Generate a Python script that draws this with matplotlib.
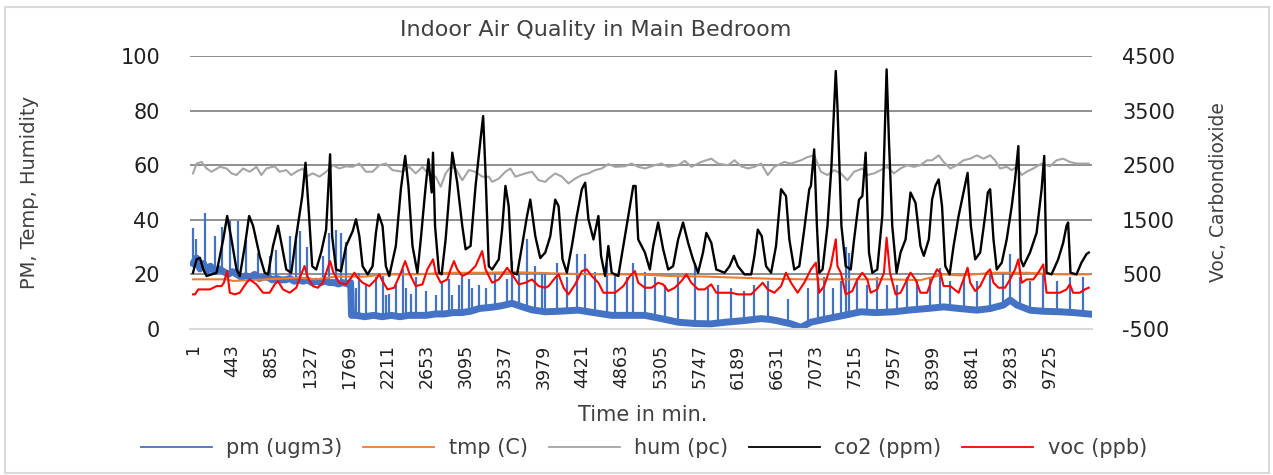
import matplotlib
matplotlib.use("Agg")
import matplotlib.pyplot as plt
from matplotlib.patches import Rectangle

# ---- data (t = minute index) ----
xtick_vals = [1, 443, 885, 1327, 1769, 2211, 2653, 3095, 3537, 3979, 4421, 4863,
              5305, 5747, 6189, 6631, 7073, 7515, 7957, 8399, 8841, 9283, 9725]
n_points = 10167

# co2 (ppm), right axis
co2_t = [1, 42, 80, 118, 155, 268, 344, 389, 438, 495, 532, 589, 638, 683, 758, 815, 853,
         909, 966, 1003, 1060, 1116, 1173, 1241, 1278, 1316, 1354, 1399, 1455, 1512, 1557,
         1580, 1625, 1681, 1738, 1813, 1851, 1889, 1926, 1983, 2039, 2077, 2107, 2152, 2190,
         2228, 2303, 2360, 2409, 2446, 2492, 2548, 2586, 2635, 2673, 2710, 2725, 2748, 2793,
         2823, 2868, 2914, 2944, 3000, 3057, 3095, 3151, 3208, 3264, 3294, 3321, 3358, 3396,
         3471, 3509, 3547, 3584, 3622, 3679, 3735, 3792, 3829, 3886, 3942, 3999,
         4056, 4112, 4150, 4195, 4244, 4301, 4357, 4414, 4452, 4489, 4546, 4602, 4632, 4678,
         4715, 4753, 4828, 4885, 4941, 4998, 5024, 5054, 5130, 5186, 5224, 5280, 5337, 5394,
         5450, 5507, 5563, 5620, 5676, 5733, 5789, 5827, 5883, 5940, 6034, 6091, 6140, 6185,
         6260, 6336, 6373, 6411, 6456, 6505, 6562, 6618, 6675, 6731, 6769, 6825, 6882, 6938,
         6995, 7014, 7051, 7082, 7108, 7146, 7202, 7247, 7296, 7315, 7334, 7360, 7409, 7466,
         7504, 7560, 7598, 7635, 7673, 7711, 7767, 7824, 7873, 7899, 7937, 7986, 8031, 8088,
         8144, 8201, 8257, 8295, 8352, 8389, 8426, 8464, 8502, 8539, 8588, 8633, 8690, 8746,
         8792, 8829, 8878, 8935, 8991, 9022, 9048, 9086, 9123, 9180, 9236, 9293, 9331, 9368,
         9395, 9425, 9500, 9575, 9632, 9662, 9688, 9745, 9820, 9877, 9915, 9933, 9960, 10028,
         10084, 10141, 10167]
co2_v = [530, 775, 805, 590, 470, 530, 1140, 1570, 1140, 590, 470, 1020, 1570, 1390, 840, 530, 500,
         1020, 1390, 1080, 590, 530, 1200, 1935, 2545, 1630, 650, 590, 900, 1320, 2700,
         1200, 590, 560, 1020, 1290, 1510, 1200, 650, 500, 650, 1260, 1600, 1390, 650,
         470, 1020, 2060, 2670, 2120, 1020, 530, 1140, 2000, 2610, 2000, 2730, 1390, 530,
         500, 1140, 2060, 2730, 2180, 1390, 960, 1020, 2120, 2970, 3400, 2360, 650, 590,
         775, 1320, 2120, 1750, 530, 500, 1020, 1570, 1870, 1200, 800, 900,
         1200, 1870, 1750, 775, 530, 1020, 1570, 2060, 2180, 1510, 1140, 1570, 840, 470,
         1020, 530, 470, 1020, 1570, 2120, 2120, 1140, 900, 590, 1020, 1450, 960, 590,
         650, 1140, 1450, 1080, 775, 530, 900, 1260, 1080, 590, 530, 650, 840, 650,
         500, 500, 840, 1320, 1200, 650, 530, 1020, 2060, 1935, 1140, 590, 650, 1320,
         2060, 2120, 2790, 1390, 530, 590, 1390, 2485, 4225, 3580, 2670, 1390, 650, 590,
         1140, 1870, 1935, 2730, 900, 530, 590, 1570, 4255, 2970, 1390, 530, 900, 1140,
         2000, 1810, 1020, 840, 1140, 1870, 2120, 2240, 1750, 650, 500, 1020, 1570, 2000,
         2360, 1390, 775, 900, 1570, 2000, 2060, 1140, 590, 715, 1140, 1750, 2240, 2850,
         775, 650, 900, 1260, 2060, 2670, 530, 500, 775, 1080, 1390, 1450, 530, 500,
         715, 870, 900]

# voc (ppb), right axis
voc_t = [1, 24, 61, 193, 268, 325, 351, 389, 419, 476, 532, 608, 645, 721, 796, 871, 928, 966,
         1022, 1098, 1173, 1229, 1267, 1305, 1361, 1418, 1474, 1512, 1557, 1595, 1663, 1738,
         1795, 1832, 1870, 1926, 2002, 2077, 2115, 2152, 2209, 2284, 2360, 2409, 2454, 2529,
         2605, 2661, 2725, 2755, 2812, 2887, 2925, 2963, 3000, 3057, 3132, 3208, 3283, 3321,
         3396, 3471, 3528, 3566, 3622, 3698, 3773, 3848, 3924, 3999,
         4037, 4112, 4150, 4207, 4263, 4338, 4414, 4470, 4527, 4602, 4659, 4791, 4885, 4960,
         5017, 5054, 5130, 5205, 5280, 5337, 5394, 5469, 5544, 5601, 5657, 5733, 5808, 5883,
         5940, 6109, 6185, 6336, 6411, 6467, 6524, 6599, 6675, 6731, 6788, 6863, 6938, 7014,
         7070, 7108, 7164, 7240, 7296, 7315, 7353, 7409, 7484, 7541, 7598, 7654, 7692, 7767,
         7843, 7873, 7911, 7975, 8031, 8088, 8144, 8201, 8257, 8332, 8389,
         8445, 8483, 8520, 8596, 8690, 8746, 8792, 8822, 8878, 8935, 9010, 9048, 9086, 9142,
         9217, 9274, 9331, 9368, 9406, 9462, 9538, 9594, 9651, 9688, 9839, 9915, 9952, 9990,
         10065, 10122, 10167]
voc_v = [134, 134, 225, 225, 286, 286, 347, 561, 164, 134, 164, 347, 408, 317, 164, 164, 317, 378,
         225, 164, 256, 500, 653, 439, 286, 256, 347, 531, 744, 531, 347, 317,
         439, 531, 439, 347, 286, 408, 500, 378, 225, 256, 531, 744, 531, 286,
         317, 592, 775, 531, 347, 408, 592, 744, 592, 469, 531, 653, 927, 592,
         347, 408, 531, 622, 500, 317, 347, 408, 286, 256,
         286, 439, 500, 256, 134, 317, 561, 592, 469, 347, 164, 164, 286, 469,
         561, 347, 256, 256, 347, 317, 195, 256, 378, 500, 347, 225, 225, 317,
         164, 164, 134, 134, 256, 347, 225, 164, 286, 531, 347, 164, 347, 592,
         714, 164, 286, 653, 1141, 653, 531, 134, 195, 408, 531, 408, 164, 225,
         531, 1172, 531, 134, 164, 347, 531, 408, 164, 164, 408,
         592, 531, 286, 286, 164, 408, 622, 347, 195, 286, 531, 592, 347, 256,
         256, 408, 592, 775, 347, 408, 408, 531, 683, 164, 164, 225, 317, 164,
         164, 225, 256]

# humidity (pc), left axis
hum_t = [1, 42, 99, 155, 212, 306, 382, 438, 495, 570, 645, 721, 777, 834, 928, 984, 1060,
         1116, 1173, 1248, 1286, 1361, 1437, 1512, 1587, 1663, 1738, 1813, 1889, 1964, 2039,
         2115, 2190, 2265, 2378, 2454, 2529, 2605, 2680, 2755, 2812, 2868, 2925, 2981, 3057,
         3132, 3208, 3283, 3358, 3396, 3471, 3547, 3603, 3660, 3773, 3848, 3924, 3999,
         4037, 4112, 4188, 4263, 4338, 4414, 4489, 4565, 4640, 4715, 4791, 4904, 4979, 5054,
         5130, 5243, 5318, 5394, 5507, 5582, 5657, 5770, 5883, 5959, 6072, 6147, 6222, 6298,
         6373, 6449, 6524, 6599, 6712, 6788, 6901, 6976, 7051, 7127, 7202, 7278, 7353, 7428,
         7504, 7598, 7654, 7730, 7805, 7880, 7956, 8031, 8106, 8182, 8257, 8332,
         8389, 8464, 8520, 8596, 8671, 8746, 8822, 8897, 8973, 9048, 9104, 9161, 9236, 9293,
         9349, 9406, 9462, 9538, 9632, 9726, 9802, 9877, 9952, 10028, 10167]
hum_v = [57.0, 60.6, 61.2, 58.8, 57.6, 59.4, 58.8, 57.0, 56.4, 58.8, 57.6, 59.4, 56.4, 58.8, 59.6, 57.6, 58.2,
         56.4, 57.6, 58.8, 55.8, 57.0, 55.8, 57.6, 60.0, 58.8, 59.6, 59.4, 60.6, 57.6, 57.6,
         60.0, 60.6, 58.2, 57.6, 59.4, 57.0, 59.4, 56.4, 55.8, 52.1, 57.0, 59.4, 58.8, 54.5,
         58.2, 57.6, 55.8, 55.8, 53.9, 55.1, 57.6, 58.8, 55.8, 57.0, 57.6, 54.5, 53.9,
         55.1, 57.0, 55.8, 53.3, 55.1, 56.4, 57.0, 58.2, 58.8, 60.4, 59.4, 59.6, 60.6, 59.4,
         58.8, 60.0, 60.6, 59.4, 60.0, 61.6, 59.4, 61.2, 62.4, 60.6, 60.0, 61.8, 59.6, 58.8,
         59.4, 60.6, 56.4, 59.4, 61.2, 60.6, 61.8, 63.0, 63.6, 57.6, 56.4, 58.2, 57.0, 54.5,
         57.6, 58.8, 56.4, 57.0, 58.2, 59.4, 57.0, 58.8, 60.0, 59.4, 60.0, 61.8,
         61.8, 63.6, 61.2, 58.8, 60.0, 61.8, 62.4, 63.6, 62.4, 63.6, 61.8, 58.8, 59.4, 58.2,
         59.4, 56.4, 57.6, 58.8, 60.6, 59.6, 61.8, 62.4, 61.2, 60.6, 60.6]

# temperature (C), left axis
tmp_t = [1, 382, 457, 834, 1211, 1399, 1625, 1964, 2152, 2529, 2906, 3283, 3660, 4301, 4678,
         5054, 5431, 5808, 6185, 6562, 6938, 7504, 7880, 8257, 8520, 8709, 9086, 9462, 9839, 10167]
tmp_v = [18.2, 18.2, 17.6, 18.2, 18.8, 18.2, 19.2, 19.2, 20.0, 20.0, 20.6, 20.6, 20.8, 20.2, 20.0,
         20.0, 19.4, 19.2, 18.8, 18.4, 18.2, 18.2, 18.2, 17.9, 20.0, 19.6, 20.6, 20.6, 20.0, 20.0]

# pm (ugm3), left axis: slow baseline plus short spikes
pm_base_t = [1, 40, 80, 120, 160, 200, 250, 300, 350, 400, 450, 500, 550, 600, 650, 700, 750, 800,
             850, 900, 950, 1000, 1050, 1100, 1150, 1200, 1250, 1300, 1350, 1400, 1450, 1500, 1550,
             1600, 1650, 1700, 1760, 1790, 1800, 1850, 1950, 2050, 2150, 2250, 2350, 2450, 2550,
             2650, 2750, 2850, 2950, 3050, 3150, 3250, 3400, 3500, 3622, 3750, 3850, 3999, 4150,
             4375, 4550, 4752, 4950, 5129, 5317, 5506, 5700, 5883, 6050, 6259, 6448, 6550, 6636,
             6700, 6788, 6901, 7014, 7202, 7391, 7579, 7750, 7956, 8150, 8333, 8521, 8700, 8898,
             9050, 9199, 9275, 9350, 9501, 9650, 9840, 10000, 10167]
pm_base_v = [24, 26, 22, 24, 21, 23, 21, 22, 21, 20, 21, 20, 19, 19.5, 19, 20, 18.5, 19,
             19, 18, 18.5, 18, 18, 18.5, 17.5, 18, 17.5, 18, 17, 17.5, 17, 17.5, 17,
             17, 16.5, 17, 16.5, 17, 5, 5, 4.5, 5, 4.5, 5, 4.5, 5, 5,
             5, 5.5, 5.5, 6, 6, 6.5, 7.5, 8, 8.5, 9.4, 8, 7, 6.3, 6.5,
             6.9, 6, 5, 5, 5, 3.8, 2.5, 2, 1.9, 2.5, 3.1, 3.8, 3.5, 3,
             2.5, 1.9, 0.6, 2.5, 3.8, 5, 6.3, 6, 6.3, 7, 7.5, 8.1, 7.5, 6.9,
             7.5, 8.8, 10.6, 8.8, 6.9, 6.5, 6.3, 6, 5.5]
pm_spike_t = [1, 31, 137, 250, 325, 419, 513, 608, 740, 871, 947, 1100, 1173, 1210, 1290, 1474,
              1550, 1625, 1681, 1738,
              1813, 1851, 1889, 1964, 2077, 2152, 2190, 2228, 2303, 2379, 2416, 2473, 2529, 2642,
              2755, 2831, 2906, 2944, 3019, 3057, 3132, 3170, 3245, 3321, 3433, 3566, 3622, 3698,
              3791, 3886, 3961, 3999, 4130, 4244, 4357, 4451, 4564, 4696, 4790, 4922, 4997, 5129,
              5242, 5355, 5506, 5694, 5845, 5958, 6109, 6259, 6372, 6523, 6750, 6976, 7089, 7165,
              7259, 7353, 7409, 7447, 7541, 7654, 7767, 7880, 7993, 8106, 8220, 8370, 8483, 8596,
              8747, 8898, 9049, 9199, 9275, 9388, 9501, 9652, 9802, 9953, 10104]
pm_spike_top = [37, 33, 42.5, 34, 37.5, 39.4, 39.4, 32.7, 28, 26.7, 29, 34, 34, 35.8, 30, 26.7,
                35, 36.4, 35, 32,
                13.3, 15, 20.6, 16, 19, 19.4, 12.5, 13, 16, 21.8, 15, 13, 19, 14,
                12.5, 17.5, 18.2, 12.5, 16, 19, 18.2, 15, 16, 15, 21, 18.2, 25, 20.6,
                33, 23, 20, 20, 24, 19, 27.5, 27.5, 21, 24, 20, 19, 24, 21,
                19, 16, 19, 24, 15, 16, 15, 14, 16, 17.5, 11, 15, 19, 19,
                15, 17.5, 30, 28, 17.5, 16, 19, 16, 16, 19, 17.5, 19, 22.5, 17.5,
                19, 17.5, 20, 21, 27.5, 19, 17.5, 20, 17.5, 19, 19]
pm_spike_floor = [24, 25, 23, 21, 21, 20, 20, 19.5, 19, 19, 18.5, 18.5, 17.5, 18, 18, 17.5,
                  17, 17, 16.5, 17,
                  5, 5, 5, 4.5, 5, 4.5, 4.5, 5, 5, 4.5, 4.5, 5, 5, 5,
                  5.5, 5.5, 5.5, 6, 6, 6, 6.5, 6.5, 7.5, 7.5, 8, 8.5, 9.4, 8.5,
                  8, 7, 6.5, 6.3, 6.5, 6.5, 6.9, 6.5, 6, 5.5, 5, 5, 5, 5,
                  4.5, 3.8, 2.5, 2, 1.9, 2, 2.5, 3.1, 3.5, 3.5, 2, 1.5, 2.5, 3,
                  3.8, 4.5, 5, 5, 6, 6.3, 6, 6, 6.3, 7, 7, 7.5, 8, 8,
                  7.5, 6.9, 7.5, 8.8, 10.6, 8.5, 6.9, 6.5, 6.3, 6, 5.5]

c_pm = '#4472C4'
c_tmp = '#ED7D31'
c_hum = '#A5A5A5'
c_co2 = '#000000'
c_voc = '#FF0000'
txt = '#404040'

plt.rcParams['font.family'] = ['DejaVu Sans']
plt.rcParams['axes.unicode_minus'] = False

fig = plt.figure(figsize=(12.73, 4.75), dpi=100)
ax1 = fig.add_axes([190 / 1273, 1 - 329 / 475, (1092 - 190) / 1273, (329 - 56) / 475])
ax2 = ax1.twinx()

# primary axis series
line_pm, = ax1.plot(pm_base_t, pm_base_v, color=c_pm, lw=5, label='pm (ugm3)')
ax1.vlines(pm_spike_t, pm_spike_floor, pm_spike_top, color=c_pm, lw=1.6)
line_tmp, = ax1.plot(tmp_t, tmp_v, color=c_tmp, lw=1.5, label='tmp (C)')
line_hum, = ax1.plot(hum_t, hum_v, color=c_hum, lw=1.5, label='hum (pc)')

# secondary axis series
line_co2, = ax2.plot(co2_t, co2_v, color=c_co2, lw=1.7, label='co2 (ppm)')
line_voc, = ax2.plot(voc_t, voc_v, color=c_voc, lw=1.5, label='voc (ppb)')

ax1.set_xlim(-33, 10204)
ax1.set_ylim(0, 100)
ax2.set_ylim(-500, 4500)
ax1.set_yticks([0, 20, 40, 60, 80, 100])
ax2.set_yticks([-500, 500, 1500, 2500, 3500, 4500])
ax1.set_xticks(xtick_vals)
ax1.set_xticklabels([str(v) for v in xtick_vals], rotation=90, fontsize=12.5, color='#202020')

ax1.tick_params(axis='y', length=0, pad=21.6, labelsize=15, labelcolor='#202020')
ax2.tick_params(axis='y', length=0, pad=21.6, labelsize=15, labelcolor='#202020')
ax1.tick_params(axis='x', length=0, pad=11)

ax1.set_axisbelow(True)
ax1.yaxis.grid(True, color='#868686', lw=1.3)
ax1.get_ygridlines()[0].set_visible(False)
for s in ['top', 'left', 'right']:
    ax1.spines[s].set_visible(False)
ax1.spines['bottom'].set_color('#d9d9d9')
ax1.spines['bottom'].set_linewidth(1.5)
for s in ax2.spines.values():
    s.set_visible(False)

fig.text(596 / 1273, 1 - 30 / 475, 'Indoor Air Quality in Main Bedroom', ha='center', va='center',
         fontsize=16, color=txt)
fig.text(30 / 1273, 1 - 192.5 / 475, 'PM, Temp, Humidity', rotation=90, ha='center', va='center',
         fontsize=14, color=txt)
fig.text(1218 / 1273, 1 - 192.5 / 475, 'Voc, Carbondioxide', rotation=90, ha='center', va='center',
         fontsize=13.5, color=txt)
fig.text(643 / 1273, 1 - 415 / 475, 'Time in min.', ha='center', va='center', fontsize=15, color=txt)

handles = [line_pm, line_tmp, line_hum, line_co2, line_voc]
leg = fig.legend(handles, [h.get_label() for h in handles], ncol=5, loc='center',
                 bbox_to_anchor=(644 / 1273, 1 - 448 / 475), frameon=False, fontsize=15,
                 handlelength=3.4, handletextpad=0.7, columnspacing=1.0)
for t in leg.get_texts():
    t.set_color(txt)
for h in leg.legend_handles:
    h.set_linewidth(1.3)

fig.patches.append(Rectangle((5 / 1273, 2 / 475), 1264 / 1273, 466 / 475, transform=fig.transFigure,
                             fill=False, edgecolor='#d9d9d9', lw=1.5))

fig.savefig('out.png', dpi=100)
